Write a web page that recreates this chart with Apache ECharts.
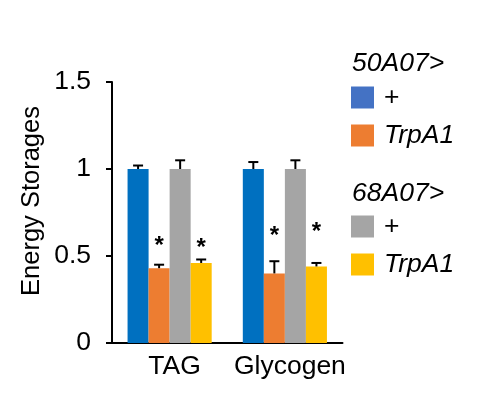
<!DOCTYPE html>
<html>
<head>
<meta charset="utf-8">
<script src="https://cdn.jsdelivr.net/npm/echarts@6/dist/echarts.min.js"></script>
<style>
html,body{margin:0;padding:0;background:#fff;}
#c{width:483px;height:394px;}
</style>
</head>
<body>
<div id="c"></div>
<script>
var categories = ['TAG', 'Glycogen'];
var seriesNames = ['50A07> +', '50A07> TrpA1', '68A07> +', '68A07> TrpA1'];
var valsBlue = [1.00, 1.00];
var valsOrange = [0.43, 0.40];
var valsGray = [1.00, 1.00];
var valsYellow = [0.46, 0.44];
var errBlue = [0.02, 0.04];
var errOrange = [0.02, 0.07];
var errGray = [0.05, 0.05];
var errYellow = [0.02, 0.02];
// asterisk positions (value units) for the TrpA1 bars
var starOrange = [0.59, 0.65];
var starYellow = [0.58, 0.67];
var yTicks = [0, 0.5, 1, 1.5];

var FONT = '"Liberation Sans", Arial, sans-serif';
var FS = 26.5;
var colors = ['#0070C0', '#ED7D31', '#A5A5A5', '#FFC000'];
var legendColors = ['#4472C4', '#ED7D31', '#A5A5A5', '#FFC000'];
var values = [valsBlue, valsOrange, valsGray, valsYellow];
var errs = [errBlue, errOrange, errGray, errYellow];
var stars = [null, starOrange, null, starYellow];

var GAP = 0.27;

var chart = echarts.init(document.getElementById('c'));

var series = [];
for (var s = 0; s < 4; s++) {
  series.push({
    name: seriesNames[s],
    type: 'bar',
    data: values[s],
    itemStyle: {color: colors[s]},
    barGap: '0%',
    barCategoryGap: (GAP * 100) + '%',
    animation: false
  });
}

// error bars and asterisks
var errData = [];
for (var s = 0; s < 4; s++) {
  for (var c = 0; c < categories.length; c++) {
    errData.push([c, values[s][c], errs[s][c], s, stars[s] ? stars[s][c] : -1]);
  }
}
series.push({
  type: 'custom',
  name: 'err',
  data: errData,
  encode: {x: 0, y: 1},
  animation: false,
  z: 5,
  renderItem: function (params, api) {
    var c = api.value(0), v = api.value(1), e = api.value(2), s = api.value(3), st = api.value(4);
    var band = api.size([1, 0])[0];
    var bw = band * (1 - GAP) / 4;
    var base = api.coord([c, v]);
    var x = base[0] + (s - 1.5) * bw;
    var top = api.coord([c, v + e])[1];
    var cap = 5;
    var children = [
      {type: 'line', shape: {x1: x, y1: base[1], x2: x, y2: top}, style: {stroke: '#000', lineWidth: 2}},
      {type: 'line', shape: {x1: x - cap, y1: top, x2: x + cap, y2: top}, style: {stroke: '#000', lineWidth: 2}}
    ];
    if (st > 0) {
      var sy = api.coord([c, st])[1];
      children.push({type: 'text', x: x, y: sy + 6, style: {text: '*', font: 'bold 24px ' + FONT, fill: '#000', align: 'center', verticalAlign: 'middle'}});
    }
    return {type: 'group', children: children};
  }
});

function legendFmt(name) {
  if (name.indexOf('TrpA1') >= 0) return '{i|TrpA1}';
  return '{n|+}';
}
var legendRich = {
  i: {fontStyle: 'italic', fontSize: FS, fontFamily: FONT, color: '#000', padding: [0, 0, 0, 5], lineHeight: 22},
  n: {fontSize: FS, fontFamily: FONT, color: '#000', padding: [0, 0, 0, 5], lineHeight: 22}
};

var option = {
  backgroundColor: '#fff',
  animation: false,
  grid: {left: 112, right: 140.5, top: 82, bottom: 51},
  xAxis: {
    type: 'category',
    data: categories,
    axisLine: {lineStyle: {color: '#000', width: 2}},
    axisTick: {show: false},
    axisLabel: {fontSize: FS, fontFamily: FONT, color: '#000', margin: 10, padding: [0, 0, 0, 10],
      interval: 0, hideOverlap: false}
  },
  yAxis: {
    type: 'value',
    min: yTicks[0],
    max: yTicks[yTicks.length - 1],
    interval: 0.5,
    splitLine: {show: false},
    axisLine: {show: true, lineStyle: {color: '#000', width: 2}},
    axisTick: {show: true, length: 6, lineStyle: {color: '#000', width: 2}},
    axisLabel: {fontSize: FS, fontFamily: FONT, color: '#000', margin: 21,
      formatter: function (v) { return String(v); }}
  },
  legend: [
    {
      orient: 'vertical', left: 346, top: 79, itemWidth: 23, itemHeight: 22, itemGap: 11,
      icon: 'rect', selectedMode: false,
      data: [
        {name: seriesNames[0], itemStyle: {color: legendColors[0]}},
        {name: seriesNames[1], itemStyle: {color: legendColors[1]}}
      ],
      formatter: legendFmt,
      textStyle: {rich: legendRich, lineHeight: 22}
    },
    {
      orient: 'vertical', left: 346, top: 208, itemWidth: 23, itemHeight: 22, itemGap: 11,
      icon: 'rect', selectedMode: false,
      data: [
        {name: seriesNames[2], itemStyle: {color: legendColors[2]}},
        {name: seriesNames[3], itemStyle: {color: legendColors[3]}}
      ],
      formatter: legendFmt,
      textStyle: {rich: legendRich, lineHeight: 22}
    }
  ],
  graphic: [
    {type: 'text', x: 32, y: 201, rotation: Math.PI / 2,
      style: {text: 'Energy Storages', font: '25.5px ' + FONT, fill: '#000', align: 'center', verticalAlign: 'middle'}},
    {type: 'text', x: 352, y: 64,
      style: {text: '50A07>', font: 'italic ' + FS + 'px ' + FONT, fill: '#000', align: 'left', verticalAlign: 'middle'}},
    {type: 'text', x: 352, y: 194,
      style: {text: '68A07>', font: 'italic ' + FS + 'px ' + FONT, fill: '#000', align: 'left', verticalAlign: 'middle'}}
  ],
  series: series
};
chart.setOption(option);
</script>
</body>
</html>
